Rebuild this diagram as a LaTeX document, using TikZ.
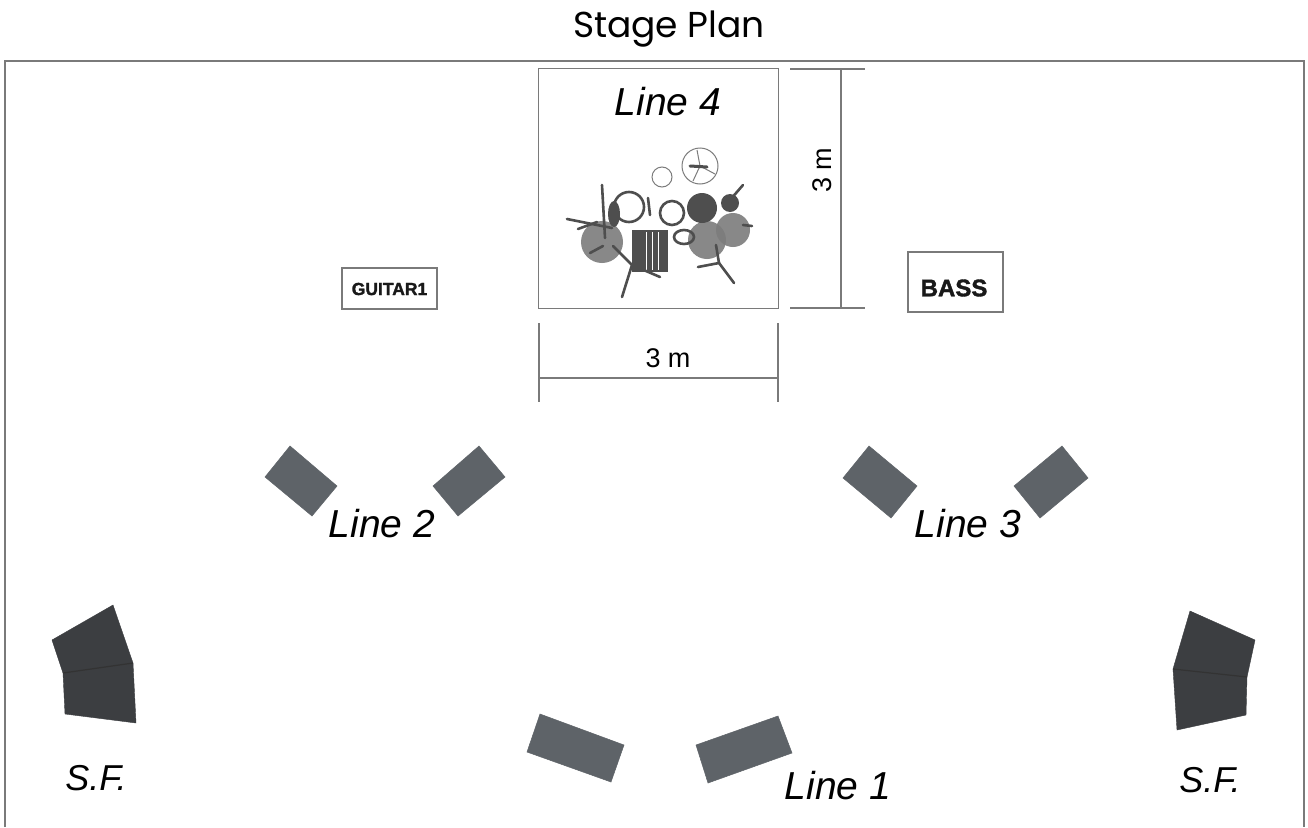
\documentclass[tikz,border=0pt]{standalone}
\usepackage{fontspec}
\setmainfont{Liberation Sans}
\newfontfamily\titlefont{Poppins}
\newfontfamily\heavyfont{Liberation Sans Bold}[FakeBold=1.6]
\definecolor{framegray}{HTML}{7A7A7A}
\definecolor{wedgecol}{HTML}{5E6368}
\definecolor{sfcol}{HTML}{3C3E41}
\definecolor{drumdark}{HTML}{4E4E4E}
\definecolor{drumlight}{HTML}{7C7C7C}
\tikzset{
  linelabel/.style={font=\itshape\fontsize{39}{39}\selectfont, inner sep=0pt},
  dimlabel/.style={font=\fontsize{27}{27}\selectfont, inner sep=0pt},
  ampbox/.style={draw=framegray, line width=1.3pt, fill=white, inner sep=0pt},
  amptext/.style={inner sep=0pt, text=black!90},
  wedge/.style={fill=wedgecol, draw=wedgecol, line width=0.5pt},
  dimline/.style={draw=framegray, line width=1.1pt},
  leg/.style={draw=drumdark, line width=2.6pt, line cap=round},
  ring/.style={draw=drumdark, line width=2.6pt},
}
\begin{document}
\begin{tikzpicture}[x=1pt,y=-1pt]
\useasboundingbox (0,0) rectangle (1308,827);
\fill[white] (0,0) rectangle (1308,827);
% title
\node[font=\titlefont\fontsize{36}{36}\selectfont, inner sep=0pt] (title) at (669,29) {Stage Plan};
% frame
\draw[framegray, line width=1.6pt] (5,827) -- (5,61) -- (1304,61) -- (1304,827);
% drum riser
\node[draw=framegray, line width=1.3pt, minimum width=240pt, minimum height=240pt, inner sep=0pt] (riser) at (658.5,188.5) {};
\node[linelabel] (line4) at (668,102) {Line 4};
% vertical dimension
\coordinate (vt1) at (790,69); \coordinate (vt2) at (865,69);
\coordinate (vb1) at (790,308); \coordinate (vb2) at (865,308);
\coordinate (vtop) at (841,69); \coordinate (vbot) at (841,308);
\draw[dimline] (vt1) -- (vt2);
\draw[dimline] (vb1) -- (vb2);
\draw[dimline] (vtop) -- (vbot);
\node[dimlabel, rotate=90] (dimv) at (822,170) {3 m};
% horizontal dimension
\coordinate (hl1) at (539,323); \coordinate (hl2) at (539,402);
\coordinate (hr1) at (778,323); \coordinate (hr2) at (778,402);
\coordinate (hleft) at (539,378); \coordinate (hright) at (778,378);
\draw[dimline] (hl1) -- (hl2);
\draw[dimline] (hr1) -- (hr2);
\draw[dimline] (hleft) -- (hright);
\node[dimlabel] (dimh) at (668,358) {3 m};
% drum kit
\fill[drumlight, opacity=0.9] (602,242) circle (21);
\fill[drumlight, opacity=0.9] (707,240) circle (19);
\fill[drumlight, opacity=0.9] (733,230) circle (17);
\fill[drumdark] (702,208) circle (15);
\fill[drumdark] (730,203) circle (9);
\draw[ring] (629,207) circle (15);
\draw[ring] (672,213) circle (12);
\draw[ring] (684,237) ellipse (10 and 7);
\fill[drumdark] (614,214) ellipse (6 and 13);
\fill[drumdark] (632,230) rectangle (668,272);
\draw[white, line width=0.8pt] (646,232) -- (646,270) (652,232) -- (652,270) (658,232) -- (658,270);
\draw[leg] (602,185) -- (605,238);
\draw[leg] (567,219) -- (612,228);
\draw[leg] (578,229) -- (597,222);
\draw[leg] (590,253) -- (603,246);
\draw[leg] (622,297) -- (632,265) -- (613,246);
\draw[leg] (632,265) -- (660,277);
\draw[leg] (698,267) -- (719,263) -- (734,283);
\draw[leg] (719,263) -- (716,245);
\draw[leg] (730,200) -- (743,185);
\draw[leg] (743,225) -- (752,226);
\draw[leg] (648,198) -- (650,215);
\draw[drumlight, line width=1pt] (662,177) circle (10);
\draw[drumlight, line width=1pt] (700,166) circle (18);
\draw[drumlight, line width=1pt] (700,166) -- (697,150) (700,166) -- (715,174) (700,166) -- (693,181);
\draw[drumdark, line width=3pt, line cap=round] (690,166) -- (707,167);
% amps
\node[ampbox, minimum width=95pt, minimum height=41pt] (guitar) at (389.5,288.5) {};
\node[amptext, font=\heavyfont\fontsize{17.5}{17.5}\selectfont] (guitartext) at (389.5,289) {GUITAR1};
\node[ampbox, minimum width=95pt, minimum height=60pt] (bass) at (955.5,282) {};
\node[amptext, font=\heavyfont\fontsize{24}{24}\selectfont] (basstext) at (954,288) {BASS};
% Line 2 wedges
\filldraw[wedge] (290,446) -- (337,486) -- (312,516) -- (265,477) -- cycle;
\filldraw[wedge] (479,446) -- (505,477) -- (458,516) -- (433,486) -- cycle;
\node[linelabel] (line2) at (382,524) {Line 2};
% Line 3 wedges
\filldraw[wedge] (869,446) -- (917,486) -- (891,518) -- (843,478) -- cycle;
\filldraw[wedge] (1062,446) -- (1088,478) -- (1040,518) -- (1014,486) -- cycle;
\node[linelabel] (line3) at (968,524) {Line 3};
% Line 1 wedges
\filldraw[wedge] (540,714) -- (624,745) -- (611,782) -- (527,752) -- cycle;
\filldraw[wedge] (696,745) -- (778,716) -- (792,753) -- (708,783) -- cycle;
\node[linelabel] (line1) at (838,786) {Line 1};
% side fills left
\filldraw[sfcol, draw=sfcol] (52,640) -- (113,605) -- (133,663) -- (63,673) -- cycle;
\filldraw[sfcol, draw=sfcol] (63,673) -- (133,663) -- (136,723) -- (65,714) -- cycle;
\draw[black!80, line width=1.2pt] (63,673) -- (133,663);
\node[linelabel, font=\itshape\fontsize{36}{36}\selectfont] (sfl) at (96,778) {S.F.};
% side fills right
\filldraw[sfcol, draw=sfcol] (1190,611) -- (1255,640) -- (1247,677) -- (1173,669) -- cycle;
\filldraw[sfcol, draw=sfcol] (1173,669) -- (1247,677) -- (1246,715) -- (1177,730) -- cycle;
\draw[black!80, line width=1.2pt] (1173,669) -- (1247,677);
\node[linelabel, font=\itshape\fontsize{36}{36}\selectfont] (sfr) at (1210,780) {S.F.};
\end{tikzpicture}
\end{document}
